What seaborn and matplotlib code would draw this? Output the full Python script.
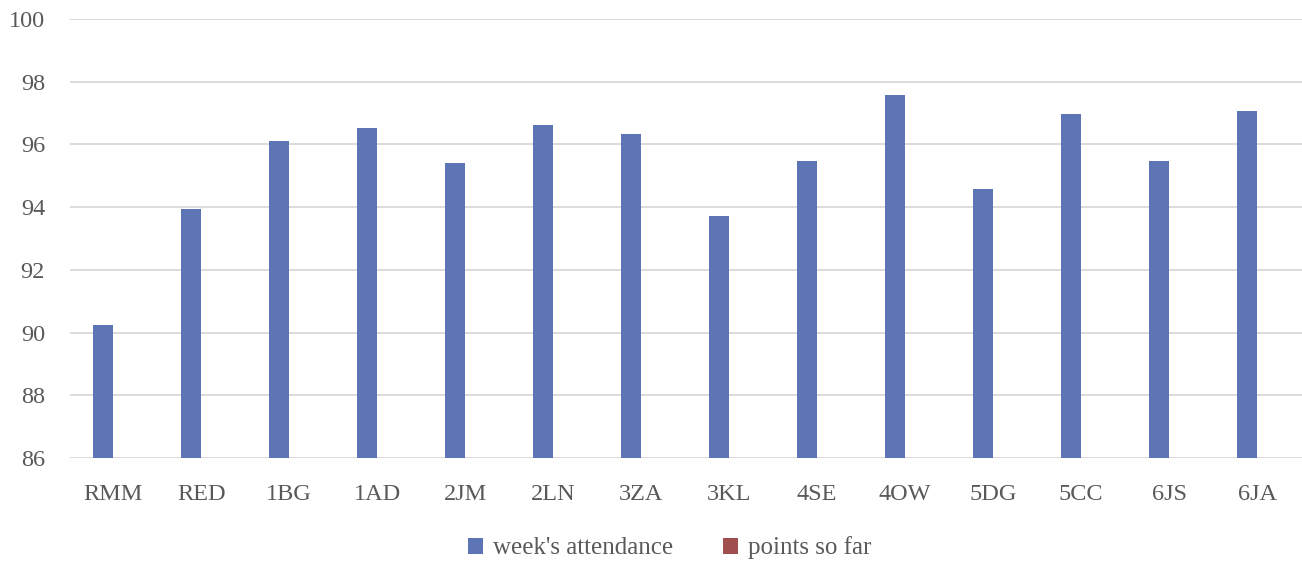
import matplotlib
matplotlib.use("Agg")
import matplotlib.pyplot as plt
import seaborn as sns
import pandas as pd
from matplotlib.patches import Patch

categories = ["RMM", "RED", "1BG", "1AD", "2JM", "2LN", "3ZA", "3KL", "4SE", "4OW", "5DG", "5CC", "6JS", "6JA"]
attendance = [90.25, 93.95, 96.12, 96.52, 95.42, 96.63, 96.34, 93.72, 95.47, 97.58, 94.57, 96.97, 95.48, 97.07]
points = [0, 0, 0, 0, 0, 0, 0, 0, 0, 0, 0, 0, 0, 0]
series_names = ["week's attendance", "points so far"]
y_ticks = [86, 88, 90, 92, 94, 96, 98, 100]

sns.set_theme(style="white")
plt.rcParams['font.family'] = ['Liberation Serif', 'DejaVu Serif']

df = pd.DataFrame({
    "class": categories * 2,
    "value": attendance + points,
    "series": [series_names[0]] * len(categories) + [series_names[1]] * len(categories),
})

colors = {"week's attendance": "#5E75B5", "points so far": "#A04E4E"}

fig = plt.figure(figsize=(13.02, 5.65), dpi=100)
ax = fig.add_axes([70/1302, 1 - 458/565, 1 - 70/1302, (458 - 19)/565])

sns.barplot(data=df, x="class", y="value", hue="series", palette=colors,
            width=0.455, ax=ax, legend=False, saturation=1, edgecolor="none")

ax.set_ylim(86, 100)
ax.set_yticks(y_ticks)
ax.set_xlim(-0.49, len(categories) - 0.49)
ax.yaxis.grid(True, color="#D9D9D9", linewidth=1.3)
ax.set_axisbelow(True)
for s in ax.spines.values():
    s.set_visible(False)
ax.set_xlabel("")
ax.set_ylabel("")
ax.tick_params(axis="both", length=0, colors="#595959", labelsize=17.5)
ax.tick_params(axis="x", pad=19)
ax.tick_params(axis="y", pad=18)
for lbl in ax.get_yticklabels():
    lbl.set_horizontalalignment("right")

handles = [Patch(facecolor=colors[n], edgecolor="none", label=n) for n in series_names]
fig.legend(handles=handles, loc="center", bbox_to_anchor=(670/1302, 1 - 548/565), ncol=2,
           frameon=False, fontsize=18, labelcolor="#595959", handlelength=0.6, handleheight=0.6,
           handletextpad=0.4, columnspacing=2.0)

fig.savefig("out.png", dpi=100)
